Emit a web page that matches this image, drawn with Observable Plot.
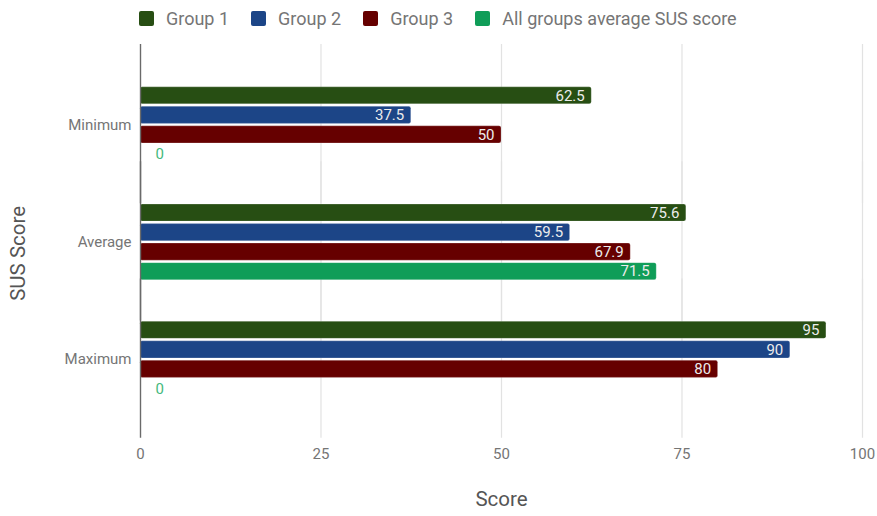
<!DOCTYPE html>
<html>
<head>
<meta charset="utf-8">
<script src="https://cdn.jsdelivr.net/npm/d3@7"></script>
<script src="https://cdn.jsdelivr.net/npm/@observablehq/plot@0.6"></script>
<style>
  html, body { margin: 0; padding: 0; background: #fff; }
  #wrap { width: 877px; font-family: Roboto, sans-serif; }
  .legend { display: flex; align-items: center; height: 36px; padding-left: 139px; box-sizing: border-box; }
  .item { display: flex; align-items: center; margin-right: 22px; color: #757575; font-size: 18px; }
  .sw { width: 15px; height: 15px; border-radius: 2px; margin-right: 12px; }
</style>
</head>
<body>
<div id="wrap">
  <div class="legend" id="legend"></div>
  <div id="chart"></div>
</div>
<script>
const categories = ["Minimum", "Average", "Maximum"];
const groups = ["Group 1", "Group 2", "Group 3", "All groups average SUS score"];
const group1 = [62.5, 75.6, 95];
const group2 = [37.5, 59.5, 90];
const group3 = [50, 67.9, 80];
const allAverage = [0, 71.5, 0];
const xTicks = [0, 25, 50, 75, 100];
const colors = ["#274e13", "#1c4587", "#660000", "#0f9d58"];

const series = [group1, group2, group3, allAverage];
const data = [];
categories.forEach((c, ci) => {
  groups.forEach((g, gi) => {
    data.push({category: c, group: g, value: series[gi][ci]});
  });
});

// legend
const legend = document.getElementById("legend");
groups.forEach((g, i) => {
  const it = document.createElement("div");
  it.className = "item";
  const sw = document.createElement("div");
  sw.className = "sw";
  sw.style.background = colors[i];
  const t = document.createElement("span");
  t.textContent = g;
  it.appendChild(sw);
  it.appendChild(t);
  legend.appendChild(it);
});

const chart = Plot.plot({
  width: 877,
  height: 480,
  marginTop: 30,
  marginBottom: 98.25,
  marginLeft: 140,
  marginRight: 15,
  style: {fontFamily: "Roboto, sans-serif", background: "white", overflow: "visible"},
  x: {domain: [0, 100]},
  y: {domain: groups, axis: null, paddingInner: 0.128, paddingOuter: 1.07, round: false},
  fy: {domain: categories, padding: 0, round: false},
  color: {domain: groups, range: colors},
  marks: [
    Plot.ruleX(xTicks.filter(d => d > 0), {stroke: "#e2e2e2", strokeWidth: 1.2, insetTop: -22, insetBottom: -20}),
    Plot.barX(data, {x: "value", y: "group", fy: "category", fill: "group", rx: 2, stroke: "white", strokeOpacity: 0.25, strokeWidth: 0.8}),
    Plot.ruleX([0], {stroke: "#6a6a6a", strokeWidth: 1.4, insetTop: -22, insetBottom: -20}),
    Plot.text(data.filter(d => d.value > 0), {
      x: "value", y: "group", fy: "category", text: d => String(d.value),
      textAnchor: "end", dx: -7, fill: "#ececec", fontSize: 15
    }),
    Plot.text(data.filter(d => d.value === 0), {
      x: "value", y: "group", fy: "category", text: d => String(d.value),
      textAnchor: "start", dx: 15, fill: "#45b97c", fontSize: 15
    }),
    Plot.axisFy({anchor: "left", tickSize: 0, tickPadding: 9, fontSize: 15, color: "#757575", label: null}),
    Plot.axisX({ticks: xTicks, tickSize: 0, tickPadding: 30, fontSize: 15, color: "#757575", label: null}),
    Plot.text(["SUS Score"], {fy: () => "Average", frameAnchor: "left", textAnchor: "middle", dx: -122, dy: 11, rotate: -90, fontSize: 20.5, fill: "#555"}),
    Plot.text(["Score"], {fy: () => "Maximum", frameAnchor: "bottom", dy: 88, fontSize: 20.5, fill: "#555"})
  ]
});
document.getElementById("chart").appendChild(chart);
</script>
</body>
</html>
